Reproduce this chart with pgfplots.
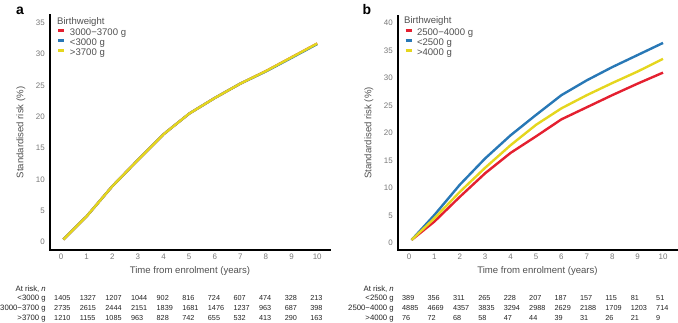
\documentclass[border=0pt]{standalone}
\usepackage{fontspec}
\setmainfont{Liberation Sans}
\usepackage{pgfplots}
\usepackage{pgfplotstable}
\pgfplotsset{compat=1.18}

\definecolor{bwRed}{RGB}{228,32,48}
\definecolor{bwBlue}{RGB}{40,120,182}
\definecolor{bwYellow}{RGB}{229,214,30}
\definecolor{tickgray}{RGB}{120,120,120}
\definecolor{labgray}{RGB}{80,80,80}
\definecolor{tabgray}{RGB}{35,35,35}

% Standardised risk curves, panel a (cut-offs 3000 / 3700 g)
\pgfplotstableread{
x     mid   low   high
0.09  0.4   0.4   0.4
1     4.1   4.1   4.1
2     8.9   8.9   8.9
3     13.1  13.1  13.1
4     17.2  17.2  17.2
5     20.5  20.5  20.5
6     23.0  23.0  23.0
7     25.3  25.3  25.3
8     27.3  27.25 27.3
9     29.5  29.42 29.5
10    31.7  31.62 31.7
}\riskcurvesA

% Standardised risk curves, panel b (cut-offs 2500 / 4000 g)
\pgfplotstableread{
x     mid   low   high
0.1   0.55  0.55  0.55
1     3.9   5.1   4.5
2     8.4   10.6  9.3
3     12.7  15.4  13.7
4     16.4  19.6  17.8
5     19.4  23.3  21.5
6     22.5  26.9  24.5
7     24.7  29.6  26.9
8     26.9  32.0  29.1
9     29.0  34.2  31.2
10    31.0  36.4  33.5
}\riskcurvesB

% Numbers at risk
\pgfplotstableread{
x  low   mid   high
0  1405  2735  1210
1  1327  2615  1155
2  1207  2444  1085
3  1044  2151  963
4  902   1839  828
5  816   1681  742
6  724   1476  655
7  607   1237  532
8  474   963   413
9  328   687   290
10 213   398   163
}\atriskA

\pgfplotstableread{
x  low  mid   high
0  389  4885  76
1  356  4669  72
2  311  4357  68
3  265  3835  58
4  228  3294  47
5  207  2988  44
6  187  2629  39
7  157  2188  31
8  115  1709  26
9  81   1203  21
10 51   714   9
}\atriskB

\newcommand\tickfont{\fontsize{8}{9}\selectfont}
\newcommand\labfont{\fontsize{9.6}{11}\selectfont}
\newcommand\legfont{\fontsize{9.6}{11}\selectfont}
\newcommand\tabfont{\fontsize{7.3}{8}\selectfont}
\newcommand\rowfont{\fontsize{7.8}{9}\selectfont}

\tikzset{
  rowlabel/.style={anchor=base east, inner sep=0pt, font=\rowfont,
    text=tabgray, xshift=-4bp},
}

\pgfplotsset{
  riskaxis/.style={
    scale only axis,
    axis x line=bottom, axis y line=left,
    axis line style={-, line width=1.6bp, black, line cap=rect},
    major tick length=0pt,
    xtick={0,...,10},
    clip=false,
    tick label style={font=\tickfont, text=tickgray,
      /pgf/number format/assume math mode=true},
    yticklabel style={inner sep=0pt, xshift=-5bp},
    xticklabel style={inner sep=0pt, yshift=-4bp},
    xlabel={Time from enrolment (years)},
    ylabel={Standardised risk (\%)},
    every axis x label/.style={at={(rel axis cs:0.5,0)}, anchor=center,
      yshift=-21bp, font=\labfont, text=labgray},
    every axis y label/.style={at={(rel axis cs:-0.104,0.5)}, rotate=90,
      anchor=center, font=\labfont, text=labgray},
    legend style={anchor=north west, draw=none, fill=none,
      inner sep=0pt, outer sep=0pt, font=\legfont, text=labgray,
      column sep=4bp, row sep=1.5bp,
      nodes={inner sep=0pt, text height=6.6bp, text depth=2bp}},
    legend cell align=left,
    legend image code/.code={
      \draw[#1, line width=3bp, line cap=butt] (0bp,2.4bp) -- (6bp,2.4bp);},
    curve/.style={line width=2.4bp, line join=round, mark=none},
    atrisk/.style={draw=none, mark=none, forget plot, nodes near coords,
      point meta=explicit symbolic,
      every node near coord/.append style={anchor=base west, inner sep=0pt,
        font=\tabfont, text=tabgray, xshift=-7bp}},
    row1/.style={every node near coord/.append style={yshift=-50.5bp}},
    row2/.style={every node near coord/.append style={yshift=-60.5bp}},
    row3/.style={every node near coord/.append style={yshift=-70.5bp}},
  },
}

\begin{document}
\begin{tikzpicture}
\path[use as bounding box] (0,0) rectangle (678bp,323bp);

% ---------------- panel a ----------------
\begin{axis}[riskaxis,
  at={(50bp,73bp)}, anchor=south west,
  width=280bp, height=235bp,
  xmin=-0.43, xmax=10.5, ymin=-1.28, ymax=36.26,
  ytick={0,5,...,35},
  legend style={at={(rel axis cs:0.025,0.941)}},
]
\addplot[curve, bwRed]    table[x=x, y=mid]  {\riskcurvesA};
\addlegendentry{3000−3700 g}
\addplot[curve, bwBlue]   table[x=x, y=low]  {\riskcurvesA};
\addlegendentry{<3000 g}
\addplot[curve, bwYellow] table[x=x, y=high] {\riskcurvesA};
\addlegendentry{>3700 g}

\addplot[atrisk, row1] table[x=x, y expr=-1.28, meta=low]  {\atriskA};
\addplot[atrisk, row2] table[x=x, y expr=-1.28, meta=mid]  {\atriskA};
\addplot[atrisk, row3] table[x=x, y expr=-1.28, meta=high] {\atriskA};

\node[anchor=base west, inner sep=0pt, font=\legfont, text=labgray]
  at (rel axis cs:0.025,0.96) {Birthweight};
\node[rowlabel, yshift=-41.5bp] at (rel axis cs:0,0) {At risk, \textit{n}};
\node[rowlabel, yshift=-50.5bp] at (rel axis cs:0,0) {<3000 g};
\node[rowlabel, yshift=-60.5bp] at (rel axis cs:0,0) {3000−3700 g};
\node[rowlabel, yshift=-70.5bp] at (rel axis cs:0,0) {>3700 g};
\end{axis}

% ---------------- panel b ----------------
\begin{axis}[riskaxis,
  at={(398bp,73bp)}, anchor=south west,
  width=279bp, height=234bp,
  xmin=-0.433, xmax=10.55, ymin=-1.27, ymax=41.3,
  ytick={0,5,...,40},
  legend style={at={(rel axis cs:0.0215,0.945)}},
]
\addplot[curve, bwRed]    table[x=x, y=mid]  {\riskcurvesB};
\addlegendentry{2500−4000 g}
\addplot[curve, bwBlue]   table[x=x, y=low]  {\riskcurvesB};
\addlegendentry{<2500 g}
\addplot[curve, bwYellow] table[x=x, y=high] {\riskcurvesB};
\addlegendentry{>4000 g}

\addplot[atrisk, row1] table[x=x, y expr=-1.27, meta=low]  {\atriskB};
\addplot[atrisk, row2] table[x=x, y expr=-1.27, meta=mid]  {\atriskB};
\addplot[atrisk, row3] table[x=x, y expr=-1.27, meta=high] {\atriskB};

\node[anchor=base west, inner sep=0pt, font=\legfont, text=labgray]
  at (rel axis cs:0.0215,0.968) {Birthweight};
\node[rowlabel, yshift=-41.5bp] at (rel axis cs:0,0) {At risk, \textit{n}};
\node[rowlabel, yshift=-50.5bp] at (rel axis cs:0,0) {<2500 g};
\node[rowlabel, yshift=-60.5bp] at (rel axis cs:0,0) {2500−4000 g};
\node[rowlabel, yshift=-70.5bp] at (rel axis cs:0,0) {>4000 g};
\end{axis}

% panel letters
\node[anchor=base, inner sep=0pt, font=\fontsize{14}{16}\selectfont\bfseries]
  at (20bp,308bp) {a};
\node[anchor=base, inner sep=0pt, font=\fontsize{14}{16}\selectfont\bfseries]
  at (367bp,308bp) {b};
\end{tikzpicture}
\end{document}
